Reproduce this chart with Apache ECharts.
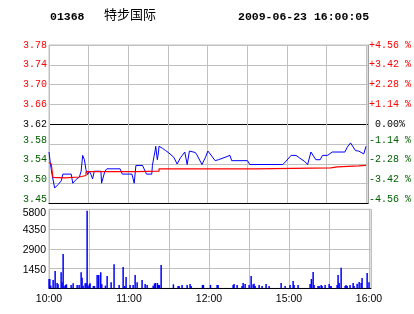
<!DOCTYPE html>
<html>
<head>
<meta charset="utf-8">
<script src="https://cdn.jsdelivr.net/npm/echarts@6/dist/echarts.min.js"></script>
<style>
html,body{margin:0;padding:0;background:#fff;}
#c{width:414px;height:314px;}
</style>
</head>
<body>
<div id="c"></div>
<script>
// ---- header ----
const stockCode = '01368';
const stockName = '特步国际';
const stamp = '2009-06-23 16:00:05';

// ---- reference price & axis ticks ----
const prevClose = 3.62;
const pctRange = 456;       // 4.56 % expressed in 1/100 %
const pctStep = 114;        // 1.14 %
const leftTickLabels = ['3.45','3.50','3.54','3.58','3.62','3.66','3.70','3.74','3.78'];
const rightTickLabels = ['-4.56 %','-3.42 %','-2.28 %','-1.14 %',' 0.00%','+1.14 %','+2.28 %','+3.42 %','+4.56 %'];
const volTickLabels = ['','1450','2900','4350','5800'];
const timeTickLabels = ['10:00','','11:00','','12:00','','15:00','','16:00'];

// ---- minute (since 10:00, trading time) / price ----
const priceTimes = [0,1,2.3,4.3,6.8,9.3,10.5,16.8,18,20.6,
  23,24.3,25.5,26.8,28,29.3,30.5,31.8,33,34.3,
  39.3,39.8,42.3,43.8,53.8,55.5,62.8,64.5,65.8,70.8,
  73.8,77.8,78.3,79.5,80.3,80.8,82,82.8,83.3,84,
  85.8,88.3,90.8,94.5,97,99.5,102.8,103.8,104.6,106.3,
  110.8,112,115.8,118.3,120.3,122,125.8,128.3,133.3,137,
  138.3,150.3,152,177,179.5,183.3,187,189.5,193.3,195.8,
  198.3,202,205.3,207,210.8,214.5,224,225.8,228.3,229.5,
  232,234.5,238.3,240];
const priceValues = [3.562,3.539,3.515,3.487,3.494,3.502,3.516,3.516,3.497,3.505,
  3.510,3.522,3.555,3.546,3.525,3.515,3.522,3.515,3.506,3.522,
  3.522,3.497,3.522,3.527,3.527,3.516,3.516,3.497,3.534,3.534,
  3.516,3.516,3.534,3.553,3.564,3.574,3.546,3.560,3.574,3.576,
  3.570,3.565,3.560,3.551,3.537,3.550,3.562,3.564,3.536,3.564,
  3.561,3.556,3.536,3.550,3.564,3.558,3.544,3.546,3.551,3.555,
  3.544,3.544,3.536,3.536,3.543,3.555,3.555,3.550,3.543,3.536,
  3.562,3.546,3.546,3.555,3.555,3.562,3.562,3.572,3.581,3.577,
  3.565,3.564,3.558,3.574];

// ---- average price ----
const avgTimes = [0,1.7,3,11.8,11.8,23,23,28,28,65.8,65.8,83.3,83.3,155.8,155.8,213.3,213.3,218.3,218.3,234.5,234.5,240];
const avgValues = [3.540,3.537,3.509,3.508,3.510,3.510,3.513,3.513,3.521,3.521,3.522,3.522,3.527,3.527,3.529,3.529,3.531,3.531,3.533,3.533,3.534,3.534];

// ---- volume ----
const volTimes = [0,0.6,1.3,3.1,4.6,6.1,6.8,9.1,9.8,10.6,
  11.3,12.3,13.1,16.6,18.1,21.1,22.6,24.1,24.8,25.6,
  27.1,27.8,28.6,29.3,30.3,30.8,33.3,34.1,36.1,37.3,
  38.8,39.6,42.3,43.6,46.6,48.8,52.6,55.6,56.8,57.8,
  60.8,63.1,64.6,66.1,69.8,72.1,73.6,78.1,79.1,79.8,
  81.3,82.1,82.8,84.1,93.3,96.8,97.6,99.8,103.6,105.8,
  106.6,115.1,115.8,121.1,126.1,126.8,138.1,138.8,141.1,144.8,
  145.6,147.1,150.1,151.6,153.1,153.8,154.6,157.6,159.8,162.8,
  165.1,174.1,177.1,180.8,183.1,183.8,186.8,195.8,196.8,198.1,
  198.8,201.8,202.6,204.1,204.8,207.1,210.1,210.8,211.6,216.1,
  216.8,217.6,219.1,222.1,222.8,223.6,225.8,228.1,228.8,231.1,
  232.6,234.1,234.8,238.6,240];
const volValues = [685,685,196,612,1272,391,294,1175,440,2520,
  147,245,294,245,367,245,245,1175,783,196,
  367,367,5700,196,294,367,171,171,979,979,
  1175,294,196,905,440,1762,245,1566,171,832,
  245,245,979,440,612,318,245,196,343,391,
  391,245,245,1713,294,171,171,245,245,318,
  171,245,245,245,245,245,245,318,245,171,
  391,318,245,905,294,343,171,245,171,318,
  171,391,171,245,538,245,245,318,685,1199,
  245,171,171,245,171,245,318,171,171,245,
  979,391,1517,171,245,171,245,391,171,343,
  465,391,759,1126,440];

const zip = (a, b) => a.map((v, i) => [v, b[i]]);

const GRID = '#c0c0c0', RED = '#ff0000', GREEN = '#006000', BLACK = '#000000';
const monoFont = '"Liberation Mono", "DejaVu Sans Mono", monospace';
const sansFont = '"Liberation Sans", Arial, sans-serif';

const priceRich = {
  r: {color: RED, fontFamily: monoFont, fontSize: 10},
  k: {color: BLACK, fontFamily: monoFont, fontSize: 10},
  g: {color: GREEN, fontFamily: monoFont, fontSize: 10, padding: [0, 0, 8, 0]}
};
function pctLabel(arr) {
  return function (v) {
    const idx = Math.round((v + pctRange) / pctStep);
    const t = arr[idx];
    if (t === undefined) return '';
    const s = idx > 4 ? 'r' : (idx === 4 ? 'k' : 'g');
    return '{' + s + '|' + t + '}';
  };
}

const chart = echarts.init(document.getElementById('c'), null, {renderer: 'canvas'});
const xMax = 241.5;

chart.setOption({
  animation: false,
  backgroundColor: '#ffffff',
  graphic: [
    {type: 'text', left: 50, top: 11, style: {text: stockCode, font: 'bold 11.5px ' + monoFont, fill: BLACK}},
    {type: 'text', left: 104, top: 8, style: {text: stockName, font: '13px "Noto Sans CJK SC", sans-serif', fill: BLACK}},
    {type: 'text', left: 238, top: 11, style: {text: stamp, font: 'bold 11.5px ' + monoFont, fill: BLACK}}
  ],
  grid: [
    {left: 49, right: 43, top: 45, height: 158.4, show: true, borderColor: GRID, borderWidth: 1},
    {left: 49, right: 43, top: 209.3, height: 79, show: true, borderColor: GRID, borderWidth: 1}
  ],
  xAxis: [
    {type: 'value', gridIndex: 0, min: 0, max: xMax, interval: 30,
      axisLine: {show: true, onZero: false, lineStyle: {color: BLACK, width: 1}},
      axisTick: {show: false}, axisLabel: {show: false},
      splitLine: {show: true, lineStyle: {color: GRID, width: 1}}},
    {type: 'value', gridIndex: 1, min: 0, max: xMax, interval: 30,
      axisLine: {show: true, onZero: false, lineStyle: {color: BLACK, width: 1}},
      axisTick: {show: false},
      axisLabel: {show: true, margin: 5, color: BLACK, fontFamily: sansFont, fontSize: 10.5,
        showMaxLabel: true, showMinLabel: true,
        formatter: function (v) {
          const i = v / 30;
          return Number.isInteger(i) && timeTickLabels[i] ? timeTickLabels[i] : '';
        }},
      splitLine: {show: true, lineStyle: {color: GRID, width: 1}}}
  ],
  yAxis: [
    {type: 'value', gridIndex: 0, position: 'left', min: -pctRange, max: pctRange, interval: pctStep,
      axisLine: {show: true, lineStyle: {color: GRID}}, axisTick: {show: false},
      axisLabel: {show: true, margin: 2, formatter: pctLabel(leftTickLabels), rich: priceRich},
      splitLine: {show: true, lineStyle: {color: [BLACK, GRID, GRID, GRID, BLACK, GRID, GRID, GRID, GRID], width: 1}}},
    {type: 'value', gridIndex: 0, position: 'right', min: -pctRange, max: pctRange, interval: pctStep,
      axisLine: {show: true, lineStyle: {color: '#a0a0a0'}}, axisTick: {show: false},
      axisLabel: {show: true, margin: 1, align: 'left', formatter: pctLabel(rightTickLabels), rich: priceRich},
      splitLine: {show: false}},
    {type: 'value', gridIndex: 0, show: false,
      min: prevClose * (1 - pctRange / 10000), max: prevClose * (1 + pctRange / 10000),
      splitLine: {show: false}},
    {type: 'value', gridIndex: 1, position: 'left', min: 0, max: 5800, interval: 1450,
      axisLine: {show: true, lineStyle: {color: GRID}}, axisTick: {show: false},
      axisLabel: {show: true, margin: 3, color: BLACK,
        formatter: function (v) {
          const i = Math.round(v / 1450);
          const t = volTickLabels[i];
          if (!t) return '';
          return i === 4 ? '{t|' + t + '}' : '{n|' + t + '}';
        },
        rich: {
          t: {color: BLACK, fontFamily: sansFont, fontSize: 10.5, padding: [7, 0, 0, 0]},
          n: {color: BLACK, fontFamily: sansFont, fontSize: 10.5, padding: [3, 0, 0, 0]}
        }},
      splitLine: {show: true, lineStyle: {color: GRID, width: 1}}}
  ],
  series: [
    {type: 'line', name: 'price', xAxisIndex: 0, yAxisIndex: 2, data: zip(priceTimes, priceValues),
      symbol: 'none', lineStyle: {color: '#0000ff', width: 1}, itemStyle: {color: '#0000ff'}, z: 3},
    {type: 'line', name: 'avg', xAxisIndex: 0, yAxisIndex: 2, data: zip(avgTimes, avgValues),
      symbol: 'none', lineStyle: {color: RED, width: 1.2}, itemStyle: {color: RED}, z: 4},
    {type: 'bar', name: 'vol', xAxisIndex: 1, yAxisIndex: 3, data: zip(volTimes, volValues),
      barWidth: 1.5, itemStyle: {color: '#0000ff'}, z: 3}
  ]
});
</script>
</body>
</html>
